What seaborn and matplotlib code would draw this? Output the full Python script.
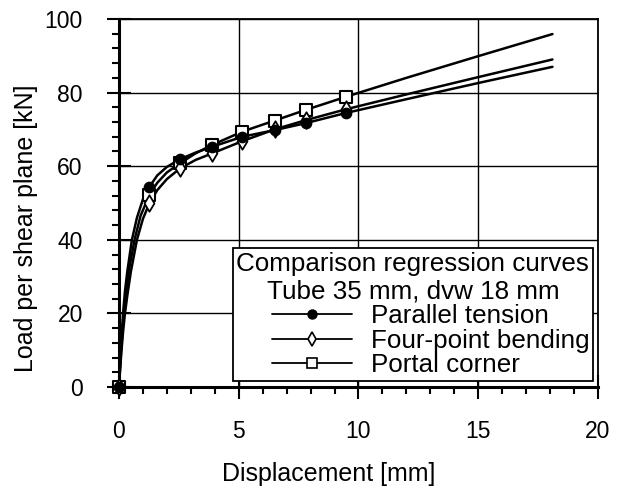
import matplotlib
matplotlib.use('Agg')
import matplotlib.pyplot as plt
import seaborn as sns
from matplotlib.lines import Line2D
from matplotlib.ticker import MultipleLocator

sns.set_theme(style='white')
plt.rcParams['font.family'] = ['Liberation Sans', 'DejaVu Sans']
plt.rcParams['text.color'] = 'black'
plt.rcParams['axes.labelcolor'] = 'black'
plt.rcParams['xtick.color'] = 'black'
plt.rcParams['ytick.color'] = 'black'

# ---- data ----
series_names = ['Parallel tension', 'Four-point bending', 'Portal corner']
legend_title = 'Comparison regression curves\nTube 35 mm, dvw 18 mm'

# measured points (markers)
marker_disp = [0, 1.27, 2.55, 3.9, 5.15, 6.5, 7.8, 9.5]
pt_load = [0, 54.4, 61.9, 65.3, 68.0, 69.8, 71.7, 74.5]
fpb_load = [0, 49.9, 59.4, 63.5, 66.8, 70.0, 72.5, 75.5]
pc_load = [0, 52.2, 60.8, 65.8, 69.4, 72.4, 75.3, 78.9]

# regression curves
pt_curve_disp = [0, 0.05, 0.1, 0.17, 0.25, 0.35, 0.54, 0.75, 1.0, 1.27, 1.6, 2.0, 2.55, 3.2, 3.9, 5.15, 6.5, 7.8, 9.5, 12, 15, 18.1]
pt_curve_load = [0, 7, 13, 20, 26, 31.5, 40, 46, 51, 54.4, 57.5, 59.8, 61.9, 63.7, 65.3, 68.0, 69.8, 71.7, 74.5, 78.2, 82.6, 87]
fpb_curve_disp = [0, 0.05, 0.1, 0.17, 0.25, 0.35, 0.5, 0.75, 1.0, 1.27, 1.6, 2.0, 2.55, 3.2, 3.9, 5.15, 6.5, 7.8, 9.5, 12, 15, 18.1]
fpb_curve_load = [0, 5, 9.5, 15, 20, 25, 31.5, 40, 45.7, 49.9, 53.5, 56.5, 59.4, 61.7, 63.5, 66.8, 70.0, 72.5, 75.5, 79.5, 84.2, 89]
pc_curve_disp = [0, 0.05, 0.1, 0.17, 0.21, 0.3, 0.45, 0.65, 0.9, 1.27, 1.6, 2.0, 2.55, 3.2, 3.9, 5.15, 6.5, 7.8, 9.5, 12, 15, 18.1]
pc_curve_load = [0, 6, 11, 17, 20, 26, 33, 40, 46.5, 52.2, 55.5, 58.3, 60.8, 63.5, 65.8, 69.4, 72.4, 75.3, 78.9, 84.0, 89.9, 95.9]

fig = plt.figure(figsize=(6.21, 4.93), dpi=100)
ax = fig.add_axes([0.1916, 0.215, 0.7713, 0.7465])

for cd, cl in [(pc_curve_disp, pc_curve_load), (fpb_curve_disp, fpb_curve_load), (pt_curve_disp, pt_curve_load)]:
    sns.lineplot(x=cd, y=cl, ax=ax, color='black', lw=1.8, sort=False, estimator=None, zorder=3)

sns.scatterplot(x=marker_disp, y=pc_load, ax=ax, marker='s', s=75, facecolor='white',
                edgecolor='black', linewidth=1.5, zorder=4, clip_on=False)
sns.scatterplot(x=marker_disp, y=fpb_load, ax=ax, marker='d', s=70, facecolor='white',
                edgecolor='black', linewidth=1.3, zorder=5, clip_on=False)
sns.scatterplot(x=marker_disp, y=pt_load, ax=ax, marker='o', s=55, facecolor='black',
                edgecolor='black', linewidth=1.0, zorder=6, clip_on=False)

ax.set_xlim(0, 20)
ax.set_ylim(0, 100)
ax.xaxis.set_major_locator(MultipleLocator(5))
ax.xaxis.set_minor_locator(MultipleLocator(1))
ax.yaxis.set_major_locator(MultipleLocator(20))
ax.yaxis.set_minor_locator(MultipleLocator(4))
ax.tick_params(which='major', direction='inout', length=17, width=1.5, pad=15.5,
               labelsize=16.5, colors='black', bottom=True, left=True)
ax.tick_params(axis='y', which='major', pad=17.5)
ax.tick_params(which='minor', direction='out', length=5, width=1.5, colors='black',
               bottom=True, left=True)
ax.grid(True, which='major', color='black', lw=1.0)
ax.set_axisbelow(True)

for side in ['left', 'bottom']:
    ax.spines[side].set_linewidth(2.2)
    ax.spines[side].set_color('black')
for side in ['top', 'right']:
    ax.spines[side].set_linewidth(1.3)
    ax.spines[side].set_color('black')

ax.set_xlabel('Displacement [mm]', fontsize=18, color='black')
ax.xaxis.set_label_coords(0.438, -0.205)
ax.set_ylabel('Load per shear plane [kN]', fontsize=18, color='black')
ax.yaxis.set_label_coords(-0.17, 0.432)

handles = [
    Line2D([], [], color='black', lw=1.3, marker='o', ms=6.5, mfc='black', mec='black'),
    Line2D([], [], color='black', lw=1.3, marker='d', ms=7, mfc='white', mec='black', mew=1.2),
    Line2D([], [], color='black', lw=1.3, marker='s', ms=7.5, mfc='white', mec='black', mew=1.2),
]
leg = ax.legend(handles, series_names, title=legend_title, loc='lower right',
                bbox_to_anchor=(0.99, 0.016), fontsize=18.7, title_fontsize=18.7,
                frameon=True, fancybox=False, edgecolor='black', framealpha=1,
                handlelength=3.1, handletextpad=0.7, labelspacing=0.02,
                borderpad=0.15, borderaxespad=0, alignment='right')
leg.get_frame().set_linewidth(1.3)
leg.get_title().set_multialignment('center')
leg.get_title().set_color('black')
for t in leg.get_texts():
    t.set_color('black')
leg.set_zorder(10)

fig.savefig('out.png', dpi=100)
